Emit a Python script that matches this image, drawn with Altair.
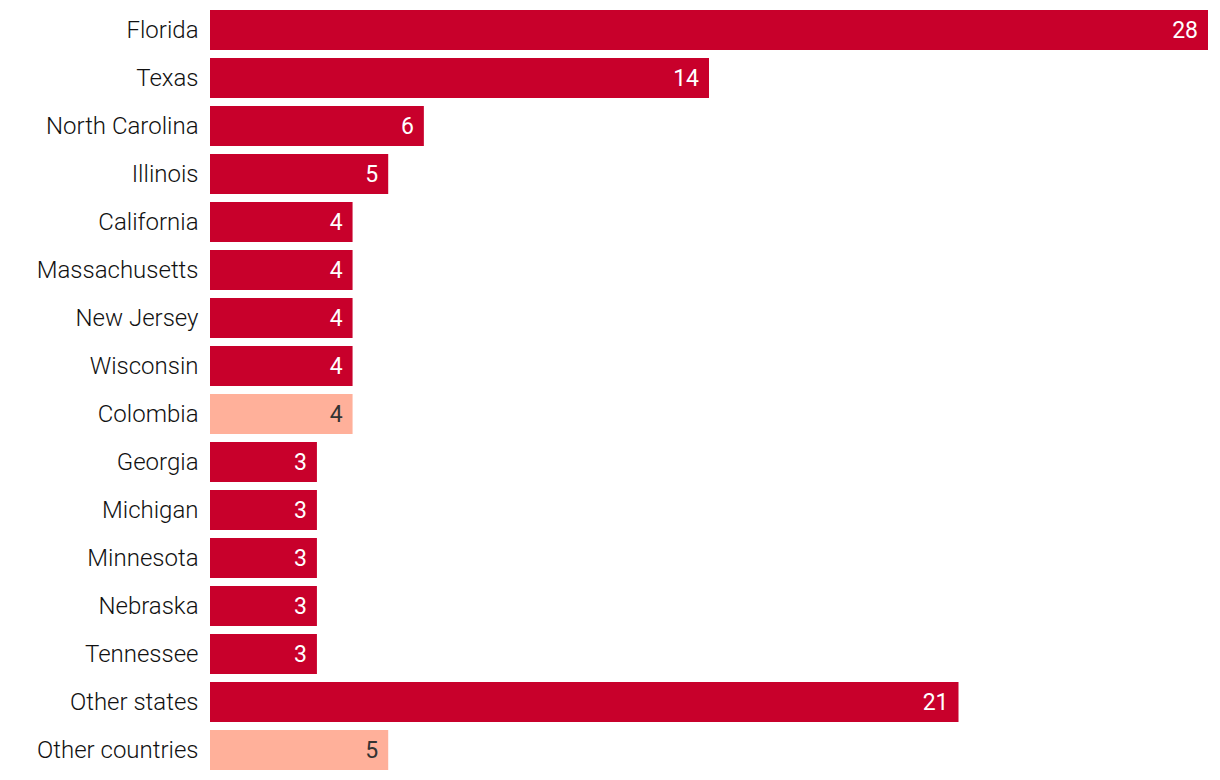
import altair as alt
import pandas as pd

categories = ["Florida", "Texas", "North Carolina", "Illinois", "California",
              "Massachusetts", "New Jersey", "Wisconsin", "Colombia", "Georgia",
              "Michigan", "Minnesota", "Nebraska", "Tennessee", "Other states",
              "Other countries"]
values = [28, 14, 6, 5, 4, 4, 4, 4, 4, 3, 3, 3, 3, 3, 21, 5]
kinds = ["state"] * 8 + ["country"] + ["state"] * 6 + ["country"]

df = pd.DataFrame({"place": categories, "count": values, "kind": kinds})

FONT = "Roboto"
y = alt.Y("place:N", sort=categories, title=None,
          scale=alt.Scale(paddingInner=1/6, paddingOuter=1/12),
          axis=alt.Axis(domain=False, ticks=False, labelFontSize=24,
                        labelFontWeight=300, labelOffset=1,
                        labelPadding=12, labelColor="#111111", labelFont=FONT,
                        labelLimit=300))
x = alt.X("count:Q", title=None, axis=None,
          scale=alt.Scale(domain=[0, 28], nice=False, zero=True))

bars = alt.Chart(df).mark_bar().encode(
    y=y, x=x,
    color=alt.Color("kind:N", legend=None,
                    scale=alt.Scale(domain=["state", "country"],
                                    range=["#C8002B", "#FFB09A"])),
)
labels = alt.Chart(df).mark_text(align="right", baseline="middle", dx=-10, dy=1,
                                 fontSize=23, font=FONT).encode(
    y=y, x=x, text="count:Q",
    color=alt.Color("kind:N", legend=None,
                    scale=alt.Scale(domain=["state", "country"],
                                    range=["#ffffff", "#333333"])),
)

chart = alt.layer(bars, labels).resolve_scale(color="independent").properties(
    width=998, height=768,
    autosize=alt.AutoSizeParams(type="none"),
    padding={"left": 210, "top": 6, "right": 12, "bottom": 6},
).configure_view(stroke=None)

chart.save("out.html", embed_options={"renderer": "svg", "actions": False})
